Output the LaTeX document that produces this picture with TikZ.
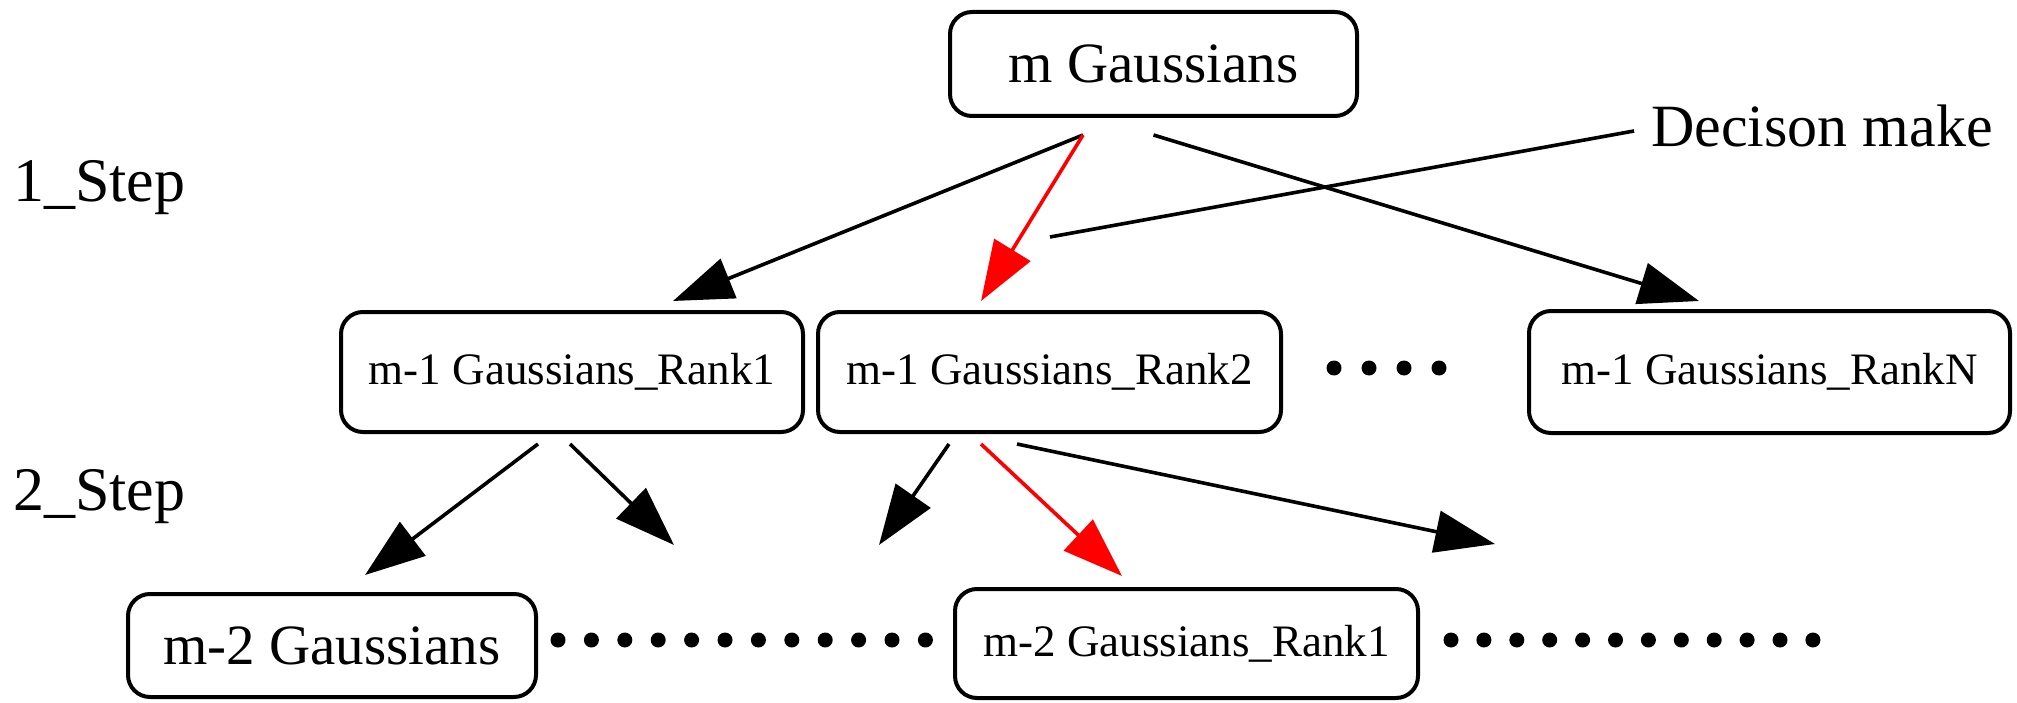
\documentclass[tikz,border=0pt]{standalone}
\usepackage{fontspec}
\setmainfont{Liberation Serif}
\usetikzlibrary{arrows.meta,calc}
\begin{document}
\begin{tikzpicture}[x=1pt,y=-1pt,
  box/.style={draw, line width=4pt, rounded corners=22pt, inner sep=0pt, align=center},
  bigfont/.style={font=\fontsize{57}{62}\selectfont},
  rankfont/.style={font=\fontsize{45}{50}\selectfont},
  stepfont/.style={font=\fontsize{62}{66}\selectfont},
  lbl/.style={anchor=base west, inner sep=0pt},
  arr/.style={line width=3.6pt, -{Triangle[length=60pt,width=42pt]}},
  redarr/.style={arr, red},
  plainline/.style={line width=3.6pt}
]
\useasboundingbox (0,0) rectangle (2017,703);

% boxes
\node[box, bigfont, minimum width=407pt, minimum height=104pt] (top) at (1153.5,64) {m Gaussians};
\node[box, rankfont, minimum width=462pt, minimum height=120pt] (r1) at (572,372) {m-1 Gaussians\_Rank1};
\node[box, rankfont, minimum width=463pt, minimum height=120pt] (r2) at (1049.5,372) {m-1 Gaussians\_Rank2};
\node[box, rankfont, minimum width=481pt, minimum height=122pt] (rN) at (1769.5,372) {m-1 Gaussians\_RankN};
\node[box, bigfont, minimum width=408pt, minimum height=103pt] (b1) at (332,645.5) {m-2 Gaussians};
\node[box, rankfont, minimum width=463pt, minimum height=109pt] (b2) at (1186.5,643.5) {m-2 Gaussians\_Rank1};

% labels
\node[lbl, stepfont] (s1) at (13,202) {1\_Step};
\node[lbl, stepfont] (s2) at (13,510) {2\_Step};
\node[lbl, font=\fontsize{60}{64}\selectfont] (dec) at (1651,147) {Decison make};

% free ends
\coordinate (decend) at (1050,237);
\coordinate (f1) at (674,545);
\coordinate (f2) at (879,545);
\coordinate (f3) at (1495,544);

% step 1 connectors
\draw[arr] ([shift={(-70.5,17)}]top.south) -- ([shift={(101,-9)}]r1.north);
\draw[redarr] ([shift={(-70.5,17)}]top.south) -- ([shift={(-68.5,-9)}]r2.north);
\draw[arr] ([shift={(0,17)}]top.south) -- ([shift={(-70.5,-8)}]rN.north);
\draw[plainline] ([shift={(-17,4.5)}]dec.west) -- (decend);

% step 2 connectors
\draw[arr] ([shift={(-34,10)}]r1.south) -- ([shift={(33,-17)}]b1.north);
\draw[arr] ([shift={(-2,10)}]r1.south) -- (f1);
\draw[arr] ([shift={(-100.5,10)}]r2.south) -- (f2);
\draw[redarr] ([shift={(-68.5,10)}]r2.south) -- ([shift={(-64.5,-11)}]b2.north);
\draw[arr] ([shift={(-32.5,10)}]r2.south) -- (f3);

% ellipsis dots
\foreach \i in {0,...,3} \fill (1334+35*\i,368) circle (7.5pt);
\foreach \i in {0,...,11} \fill (558+33.4*\i,640) circle (7.5pt);
\foreach \i in {0,...,11} \fill (1451+32.9*\i,640) circle (7.5pt);
\end{tikzpicture}
\end{document}
